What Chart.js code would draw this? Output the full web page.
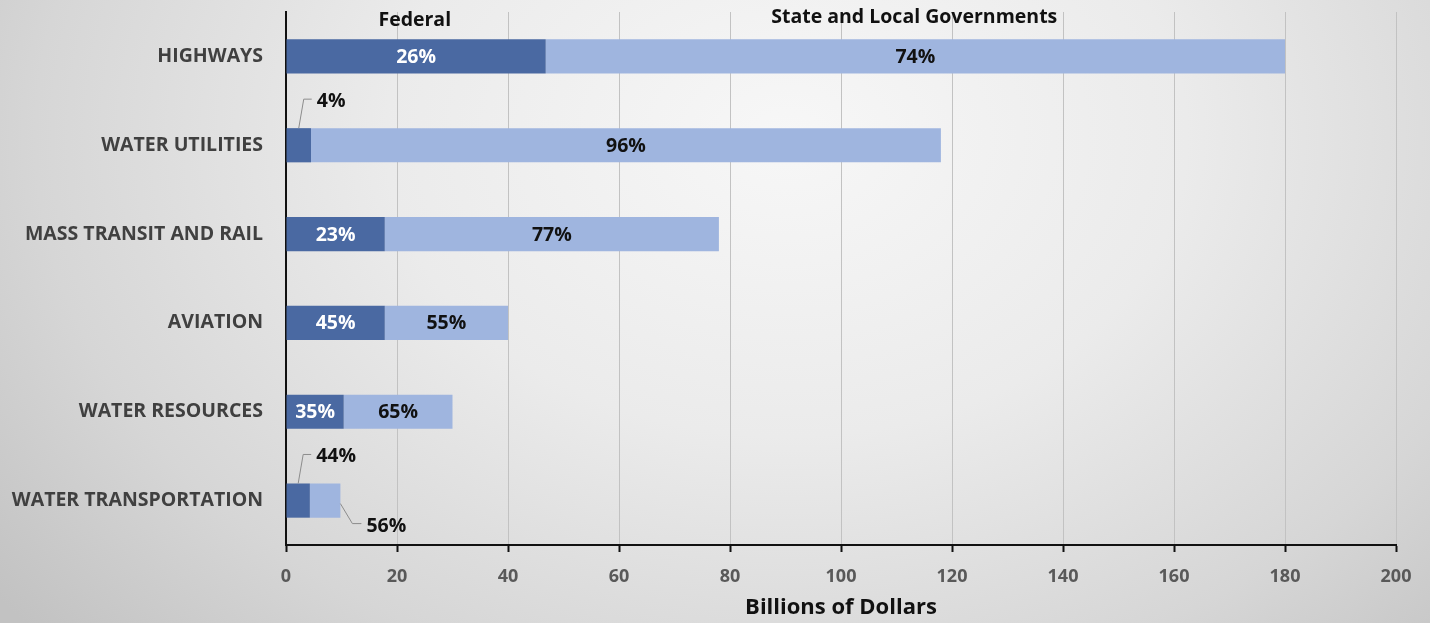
<!DOCTYPE html>
<html>
<head>
<meta charset="utf-8">
<script src="https://cdn.jsdelivr.net/npm/chart.js@4.4.1/dist/chart.umd.min.js"></script>
<style>
  html, body { margin: 0; padding: 0; width: 1430px; height: 623px; overflow: hidden; }
  body { background: radial-gradient(ellipse 70% 120% at 55% 22%, #f7f7f7 0%, #ebebeb 40%, #d6d6d6 75%, #c2c2c2 100%); }
  #wrap { position: relative; width: 1430px; height: 623px; }
</style>
</head>
<body>
<div id="wrap"><canvas id="c" width="1430" height="623"></canvas></div>
<script>
const categories = ["HIGHWAYS", "WATER UTILITIES", "MASS TRANSIT AND RAIL", "AVIATION", "WATER RESOURCES", "WATER TRANSPORTATION"];
const federal = [46.8, 4.5, 17.8, 17.8, 10.4, 4.3];
const stateLocal = [133.2, 113.5, 60.2, 22.2, 19.6, 5.5];
const federalPct = ["26%", "4%", "23%", "45%", "35%", "44%"];
const statePct = ["74%", "96%", "77%", "55%", "65%", "56%"];
const seriesNames = ["Federal", "State and Local Governments"];
const xTicks = [0, 20, 40, 60, 80, 100, 120, 140, 160, 180, 200];
const axisTitle = "Billions of Dollars";

const FONT = "'Open Sans', 'Noto Sans', sans-serif";
const FED_COLOR = "#4a69a2";
const STATE_COLOR = "#9fb5df";

// label placement mode per category: 'in' = inside bar, 'callout' = leader line
const fedMode = ["in", "callout", "in", "in", "in", "callout"];
const stateMode = ["in", "in", "in", "in", "in", "callout"];

const labelPlugin = {
  id: "labels",
  afterDatasetsDraw(chart) {
    const ctx = chart.ctx;
    const xs = chart.scales.x;
    ctx.save();
    ctx.font = "bold 19.5px " + FONT;
    ctx.textBaseline = "middle";
    const fedMeta = chart.getDatasetMeta(0);
    const stMeta = chart.getDatasetMeta(1);
    categories.forEach((c, i) => {
      const fb = fedMeta.data[i];
      const sb = stMeta.data[i];
      const half = fb.height / 2;
      // federal
      if (fedMode[i] === "in") {
        ctx.fillStyle = "#ffffff";
        ctx.textAlign = "center";
        ctx.fillText(federalPct[i], (fb.base + fb.x) / 2, fb.y + 1);
      } else {
        const cx = (fb.base + fb.x) / 2;
        const top = fb.y - half;
        ctx.strokeStyle = "#8c8c8c";
        ctx.lineWidth = 1;
        ctx.beginPath();
        ctx.moveTo(cx, top);
        ctx.lineTo(cx + 5, top - 29);
        ctx.lineTo(cx + 13, top - 29);
        ctx.stroke();
        ctx.fillStyle = "#111111";
        ctx.textAlign = "left";
        ctx.fillText(federalPct[i], cx + 18, top - 27);
      }
      // state
      if (stateMode[i] === "in") {
        ctx.fillStyle = "#111111";
        ctx.textAlign = "center";
        ctx.fillText(statePct[i], (sb.base + sb.x) / 2, sb.y + 1);
      } else {
        const ex = sb.x;
        const y0 = sb.y + 3;
        ctx.strokeStyle = "#8c8c8c";
        ctx.lineWidth = 1;
        ctx.beginPath();
        ctx.moveTo(ex, y0);
        ctx.lineTo(ex + 12, y0 + 20);
        ctx.lineTo(ex + 21, y0 + 20);
        ctx.stroke();
        ctx.fillStyle = "#111111";
        ctx.textAlign = "left";
        ctx.fillText(statePct[i], ex + 26, y0 + 23);
      }
    });
    // series headers
    ctx.fillStyle = "#111111";
    ctx.textAlign = "center";
    ctx.font = "bold 19.5px " + FONT;
    ctx.fillText(seriesNames[0], xs.getPixelForValue(23.2), 20);
    ctx.fillText(seriesNames[1], xs.getPixelForValue(113.2), 17);
    ctx.restore();
  }
};

new Chart(document.getElementById("c"), {
  type: "bar",
  data: {
    labels: categories,
    datasets: [
      { label: seriesNames[0], data: federal, backgroundColor: FED_COLOR, borderWidth: 0,
        categoryPercentage: 1, barPercentage: 0.385 },
      { label: seriesNames[1], data: stateLocal, backgroundColor: STATE_COLOR, borderWidth: 0,
        categoryPercentage: 1, barPercentage: 0.385 }
    ]
  },
  options: {
    indexAxis: "y",
    responsive: false,
    animation: false,
    events: [],
    layout: { padding: { left: 0, right: 34, top: 12, bottom: 0 } },
    plugins: { legend: { display: false }, tooltip: { enabled: false } },
    scales: {
      x: {
        stacked: true,
        min: 0, max: 200,
        afterBuildTicks(scale) { scale.ticks = xTicks.map(v => ({ value: v })); },
        afterFit(scale) { scale.height = 78; },
        grid: { color: "#c2c2c2", lineWidth: 1, drawTicks: true, tickLength: 7, tickColor: "#111111", tickWidth: 2 },
        border: { display: true, color: "#111111", width: 2 },
        ticks: { color: "#595959", font: { family: FONT, size: 18, weight: "bold" }, padding: 14, maxRotation: 0 },
        title: { display: true, text: axisTitle, color: "#111111", font: { family: FONT, size: 22, weight: "bold" }, padding: { top: 0, bottom: 2 } }
      },
      y: {
        stacked: true,
        afterFit(scale) { scale.width = 286; scale.paddingTop = 0; scale.paddingBottom = 0; },
        grid: { display: false, drawTicks: false },
        border: { display: true, color: "#111111", width: 2 },
        ticks: { color: "#404040", font: { family: FONT, size: 19.5, weight: "bold" }, padding: 23 }
      }
    }
  },
  plugins: [labelPlugin]
});
</script>
</body>
</html>
